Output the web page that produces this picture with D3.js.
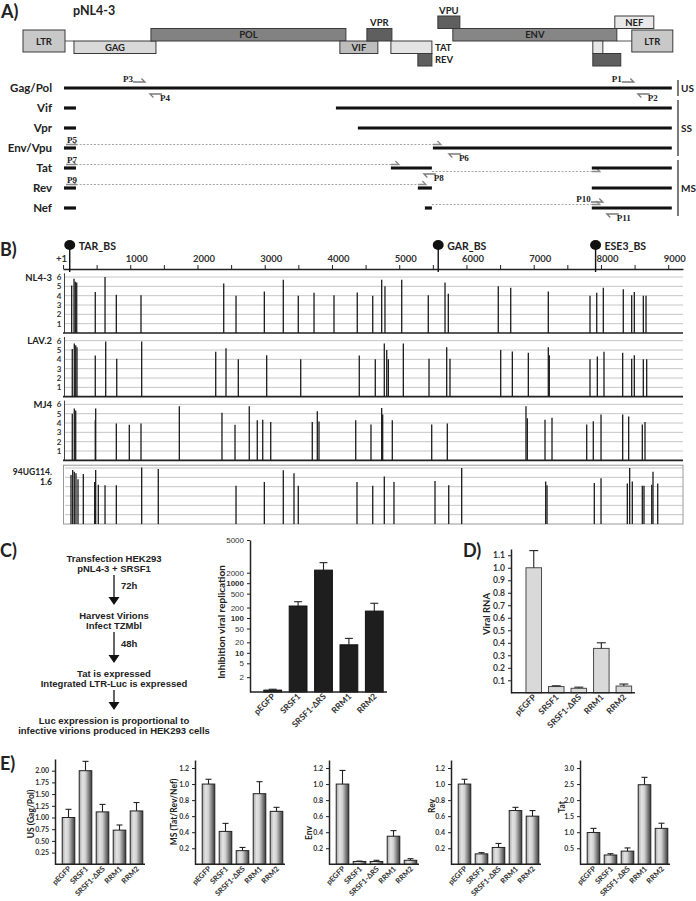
<!DOCTYPE html>
<html>
<head>
<meta charset="utf-8">
<script src="https://cdn.jsdelivr.net/npm/d3@7"></script>
<style>
  body { margin: 0; background: #fff; }
  svg { display: block; }
  text { font-family: Lato, 'Open Sans', sans-serif; font-weight: bold; fill: #222; }
  .serif { font-family: 'Liberation Serif', 'DejaVu Serif', serif; }
  .arial { font-family: 'Liberation Sans', Arial, sans-serif; }
</style>
</head>
<body>
<svg id="fig" width="696" height="901"></svg>
<script>
// ---------- A) pNL4-3 map (nt) ----------
const genes = [
  {name: 'LTR', frame: 'ltr', start: 0, end: 628},
  {name: 'GAG', frame: 'f2', start: 762, end: 1988},
  {name: 'POL', frame: 'f1', start: 1913, end: 4828},
  {name: 'VIF', frame: 'f2', start: 4738, end: 5306},
  {name: 'VPR', frame: 'f1', start: 5142, end: 5516},
  {name: 'TAT', frame: 'f2', start: 5501, end: 6114},
  {name: 'REV', frame: 'f3', start: 5904, end: 6114},
  {name: 'VPU', frame: 'up', start: 6203, end: 6532},
  {name: 'ENV', frame: 'f1', start: 6427, end: 8879},
  {name: 'NEF', frame: 'up', start: 8849, end: 9432},
  {name: 'LTR', frame: 'ltr', start: 9103, end: 9716},
  {name: '', frame: 'f2', start: 8520, end: 8670},
  {name: '', frame: 'f3', start: 8520, end: 8938}
];
const transcripts = ['Gag/Pol', 'Vif', 'Vpr', 'Env/Vpu', 'Tat', 'Rev', 'Nef'];
const transcriptExons = {
  'Gag/Pol': [[613, 9701]],
  'Vif': [[613, 792], [4679, 9701]],
  'Vpr': [[613, 792], [5007, 9701]],
  'Env/Vpu': [[613, 792], [6129, 9701]],
  'Tat': [[613, 792], [5501, 6114], [8505, 9701]],
  'Rev': [[613, 792], [5904, 6114], [8505, 9701]],
  'Nef': [[613, 792], [6009, 6114], [8505, 9701]]
};
// transcript, junction after exon k, above(-1)/below(+1)
const primerJunctions = [['Env/Vpu', 0, -1], ['Tat', 0, -1], ['Tat', 1, 1], ['Rev', 0, -1], ['Nef', 1, -1]];
const primers = [
  ['P3', 'Gag/Pol', 1644, 'f'], ['P4', 'Gag/Pol', 1898, 'r'], ['P1', 'Gag/Pol', 8954, 'f'], ['P2', 'Gag/Pol', 9193, 'r'],
  ['P5', 'Env/Vpu', 643, 'f'], ['P6', 'Env/Vpu', 6368, 'r'], ['P7', 'Tat', 643, 'f'], ['P8', 'Tat', 5994, 'r'],
  ['P9', 'Rev', 643, 'f'], ['P10', 'Nef', 8490, 'f'], ['P11', 'Nef', 8729, 'r']
];
const transcriptGroups = [['US', ['Gag/Pol']], ['SS', ['Vif', 'Vpr', 'Env/Vpu']], ['MS', ['Tat', 'Rev', 'Nef']]];

// ---------- B) SRSF1 binding sites (position, score) ----------
const bindingSites = [['TAR_BS', 100], ['GAR_BS', 5580], ['ESE3_BS', 7920]];
const strains = ['NL4-3', 'LAV.2', 'MJ4', '94UG114.1.6'];
const nl43Sites = [[129,5.1],[164,5.8],[183,5.5],[204,5.4],[480,4.4],[625,6.0],[793,4.1],[1160,4.05],[2390,5.3],[2573,4.0],
  [2994,4.45],[3276,5.7],[3499,4.0],[3733,4.3],[4030,4.05],[4376,4.35],[4606,4.0],[4739,5.7],[4788,5.0],[5037,5.7],
  [5432,4.05],[5681,5.4],[5730,4.2],[6473,5.0],[6658,4.85],[7217,4.45],[7837,4.0],[7937,4.3],[8035,4.85],[8332,4.7],
  [8457,4.05],[8496,4.4],[8630,4.0],[8670,4.0]];
const lav2Sites = [[138,5.1],[168,5.7],[189,5.5],[208,5.3],[480,4.4],[635,5.9],[799,4.05],[1170,5.9],[2271,4.8],[2424,5.2],
  [2607,4.0],[3029,4.45],[3535,4.0],[4406,4.4],[4644,4.0],[4778,5.7],[4814,5.0],[4838,4.0],[5061,5.7],[5443,4.05],
  [5706,5.3],[5755,4.05],[6509,5.0],[6682,4.85],[6920,4.7],[7217,5.3],[7232,4.45],[7837,4.0],[7946,4.3],[8045,4.8],
  [8323,4.7],[8457,4.05],[8496,4.45],[8630,4.0],[8680,4.0]];
const mj4Sites = [[138,5.0],[168,5.55],[189,5.35],[480,4.3],[486,5.55],[793,3.95],[986,3.8],[1160,3.95],[1730,5.8],[2364,5.1],
  [2558,3.8],[2770,5.8],[2889,4.3],[2970,4.35],[3089,4.1],[3707,4.1],[3782,5.25],[3807,4.15],[4353,4.3],[4580,3.85],
  [4739,5.6],[4754,4.9],[4897,4.3],[5483,3.85],[5715,3.95],[6885,5.8],[6905,4.5],[7168,4.35],[7272,4.55],[7788,3.85],
  [7886,4.2],[8001,4.9],[8323,4.9],[8412,4.7],[8615,3.85],[8655,4.1]];
const ug114Sites = [[119,5.25],[144,5.8],[168,5.6],[193,5.45],[223,4.8],[302,5.35],[471,4.5],[486,5.8],[525,4.2],[625,4.15],
  [793,4.15],[1170,6.05],[1417,5.9],[2573,4.1],[2994,4.5],[3276,5.75],[3435,5.45],[3499,4.1],[4372,4.5],[4606,4.1],
  [4778,5.1],[4922,4.5],[5532,4.6],[5736,4.15],[5929,6.0],[7178,4.55],[7198,4.15],[7901,4.4],[8001,4.9],[8392,4.35],
  [8427,6.0],[8466,4.55],[8615,4.1],[8640,4.1],[8755,4.2],[8774,5.6],[8844,4.35]];
const strainSites = [nl43Sites, lav2Sites, mj4Sites, ug114Sites];

// ---------- C) D) E) ----------
const flowSteps = [
  ['Transfection HEK293', 'pNL4-3 + SRSF1'],
  ['Harvest Virions', 'Infect TZMbl'],
  ['Tat is expressed', 'Integrated LTR-Luc is expressed'],
  ['Luc expression is proportional to', 'infective virions produced in HEK293 cells']
];
const flowTimes = ['72h', '48h', ''];
const constructs = ['pEGFP', 'SRSF1', 'SRSF1-\u0394RS', 'RRM1', 'RRM2'];
const inhibition = [0.85, 221, 2150, 17, 158];
const inhibitionErr = [0.9, 294, 2650, 26, 265];
const inhibitionTicks = [2, 5, 10, 20, 50, 100, 200, 500, 1000, 2000, 5000];
const viralRNA = [1.0, 0.05, 0.036, 0.355, 0.054];
const viralRNAErr = [1.137, 0.056, 0.045, 0.40, 0.07];
const viralRNATicks = [0.1, 0.2, 0.3, 0.4, 0.5, 0.6, 0.7, 0.8, 0.9, 1.0, 1.1];
const usRNA = [1.0, 2.0, 1.12, 0.73, 1.14];
const usErr = [1.175, 2.2, 1.28, 0.84, 1.32];
const msRNA = [1.0, 0.41, 0.17, 0.88, 0.66];
const msErr = [1.06, 0.51, 0.21, 1.03, 0.71];
const envRNA = [1.0, 0.035, 0.035, 0.35, 0.05];
const envErr = [1.17, 0.04, 0.05, 0.42, 0.07];
const revRNA = [1.0, 0.13, 0.21, 0.67, 0.60];
const revErr = [1.06, 0.145, 0.26, 0.71, 0.67];
const tatRNA = [0.99, 0.29, 0.41, 2.48, 1.12];
const tatErr = [1.12, 0.33, 0.51, 2.71, 1.28];

const svg = d3.select('#fig');
svg.append('rect').attr('width', 696).attr('height', 901).attr('fill', '#fff');

function txt(g, s, x, y, size, anchor) {
  return g.append('text').attr('x', x).attr('y', y).attr('font-size', size)
    .attr('text-anchor', anchor || 'start').text(s);
}
function halfArrow(g, x, y, len, dir, color) {
  const p = dir === 'f'
    ? `M${x},${y}H${x + len}l-3.5,-3.5`
    : `M${x + len},${y}H${x}l3.5,3.5`;
  g.append('path').attr('d', p).attr('fill', 'none')
    .attr('stroke', color || '#7a7a7a').attr('stroke-width', 1.3);
}

// ================= A =================
const gA = svg.append('g');
txt(gA, 'A)', 1, 18, 18);
txt(gA, 'pNL4-3', 73, 15, 12.5);
const xA = d3.scaleLinear().domain([0, 9719]).range([23, 673]);
const frameY = d3.scaleBand().domain(['up', 'f1', 'f2', 'f3']).range([16, 66]);
const bw = frameY.bandwidth();
const geneTop = d => d.frame === 'ltr' ? frameY('f1') + 1.5 : frameY(d.frame);
const geneH = d => d.frame === 'ltr' ? bw * 2 - 3 : bw;
const geneFill = {LTR: '#c8c8c8', GAG: '#d9d9d9', POL: '#828282', VIF: '#bdbdbd', VPR: '#5f5f5f',
  TAT: '#e4e4e4', REV: '#5f5f5f', VPU: '#5f5f5f', ENV: '#868686', NEF: '#e8e8e8'};
const ltrs = genes.filter(d => d.name === 'LTR');
const gag = genes.find(d => d.name === 'GAG');
const env = genes.find(d => d.name === 'ENV');
gA.append('g').attr('stroke', '#555').attr('stroke-width', 1)
  .selectAll('line').data([[ltrs[0].end, gag.start], [env.end, ltrs[1].start]]).join('line')
  .attr('x1', d => xA(d[0])).attr('x2', d => xA(d[1]))
  .attr('y1', frameY('f2')).attr('y2', frameY('f2'));
gA.append('g').selectAll('rect').data(genes).join('rect')
  .attr('x', d => xA(d.start)).attr('width', d => xA(d.end) - xA(d.start))
  .attr('y', geneTop).attr('height', geneH)
  .attr('fill', d => geneFill[d.name] || (d.frame === 'f3' ? '#5f5f5f' : '#e6e6e6'))
  .attr('stroke', '#3a3a3a').attr('stroke-width', 1);
const outside = {VPR: 'above', VPU: 'above', TAT: 'right', REV: 'right'};
gA.append('g').selectAll('text').data(genes.filter(d => d.name)).join('text')
  .attr('font-size', 9.5)
  .attr('x', d => outside[d.name] === 'right' ? xA(d.end) + 3 : (xA(d.start) + xA(d.end)) / 2)
  .attr('y', d => outside[d.name] === 'above' ? geneTop(d) - 2.5 : geneTop(d) + geneH(d) / 2 + 3.5)
  .attr('text-anchor', d => outside[d.name] === 'right' ? 'start' : 'middle')
  .text(d => d.name);

const yT = d3.scalePoint().domain(transcripts).range([88, 208]);
gA.append('g').selectAll('text').data(transcripts).join('text')
  .attr('x', 52).attr('y', d => yT(d) + 4).attr('text-anchor', 'end')
  .attr('font-size', 11.5).text(d => d);
primerJunctions.forEach(([t, k, side]) => {
  const ex = transcriptExons[t];
  const y = yT(t) + side * 3.5;
  const x1 = xA(ex[k][1]), x2 = xA(ex[k + 1][0]);
  gA.append('line').attr('x1', x1).attr('x2', x2).attr('y1', y).attr('y2', y)
    .attr('stroke', '#9a9a9a').attr('stroke-width', 0.9).attr('stroke-dasharray', '2,1.6');
  halfArrow(gA, x2, y, 8, 'f', '#8a8a8a');
});
transcripts.forEach(t => {
  gA.append('g').selectAll('line').data(transcriptExons[t]).join('line')
    .attr('x1', d => xA(d[0])).attr('x2', d => xA(d[1]))
    .attr('y1', yT(t)).attr('y2', yT(t))
    .attr('stroke', '#111').attr('stroke-width', 3.2);
});
primers.forEach(([name, t, pos, dir]) => {
  const x = xA(pos), y0 = yT(t);
  if (dir === 'f') {
    if (pos < 1000) {
      halfArrow(gA, x, y0 - 3.5, 10, 'f', '#8a8a8a');
      txt(gA, name, x + 1, y0 - 5.5, 9, 'start').attr('class', 'serif');
    } else {
      halfArrow(gA, x, y0 - 6, 12, 'f');
      txt(gA, name, x, y0 - 6.5, 9, 'end').attr('class', 'serif');
    }
  } else {
    halfArrow(gA, x, y0 + 6, 12, 'r');
    txt(gA, name, x + 10, y0 + 13, 9, 'start').attr('class', 'serif');
  }
});
transcriptGroups.forEach(([name, members]) => {
  const y1 = yT(members[0]) - 8, y2 = yT(members[members.length - 1]) + 8;
  gA.append('line').attr('x1', 678).attr('x2', 678).attr('y1', y1).attr('y2', y2)
    .attr('stroke', '#333').attr('stroke-width', 1.3);
  txt(gA, name, 681, (y1 + y2) / 2 + 4, 10);
});

// ================= B =================
const gB = svg.append('g');
txt(gB, 'B)', 0, 256, 18);
const xB = d3.scaleLinear().domain([0, 9220]).range([63, 683]);
const axB = gB.append('g').attr('transform', 'translate(0,269)')
  .call(d3.axisTop(xB).tickValues(d3.range(0, 9001, 500).map(v => v || 1))
    .tickSize(4).tickSizeOuter(0)
    .tickFormat(d => d === 1 ? '+1' : (d % 1000 === 0 ? d : '')));
axB.attr('font-family', null).attr('font-size', null).attr('color', '#222');
axB.select('.domain').attr('stroke-width', 1.6);
axB.selectAll('text').attr('font-size', 9.5).attr('dx', d => d === 1 ? -2 : 6).style('fill', '#333');
bindingSites.forEach(([name, pos]) => {
  const x = xB(pos);
  gB.append('line').attr('x1', x).attr('x2', x).attr('y1', 245).attr('y2', 272)
    .attr('stroke', '#111').attr('stroke-width', 1.4);
  gB.append('ellipse').attr('cx', x).attr('cy', 245).attr('rx', 5.5).attr('ry', 5).attr('fill', '#111');
  txt(gB, name, x + 9, 249.5, 10.5);
});
strains.forEach((name, i) => {
  const base = 333 + i * 63.67;
  const y = d3.scaleLinear().domain([0, 6]).range([base, base - 56]);
  const g = gB.append('g');
  g.append('g').selectAll('line').data(d3.range(1, 7)).join('line')
    .attr('x1', 65).attr('x2', 683).attr('y1', d => y(d)).attr('y2', d => y(d))
    .attr('stroke', '#c6c6c6').attr('stroke-width', 1);
  if (i < 3) {
    g.append('line').attr('x1', 64.5).attr('x2', 64.5).attr('y1', y(6.4)).attr('y2', base)
      .attr('stroke', '#444').attr('stroke-width', 1);
    g.append('line').attr('x1', 63).attr('x2', 683).attr('y1', base).attr('y2', base)
      .attr('stroke', '#222').attr('stroke-width', 1.6);
    g.append('g').selectAll('text').data(d3.range(1, 7)).join('text')
      .attr('x', 61.5).attr('y', d => y(d) + 3).attr('text-anchor', 'end')
      .attr('font-size', 8).style('fill', '#333').text(d => d);
    txt(g, name, 52, y(6) + 3.5, 9.5, 'end');
  } else {
    g.append('rect').attr('x', 63.5).attr('y', y(6.3)).attr('width', 619.5).attr('height', base - y(6.3))
      .attr('fill', 'none').attr('stroke', '#9a9a9a').attr('stroke-width', 1);
    const parts = name.match(/^(.*?\.)(.*)$/);
    txt(g, parts[1], 52, y(5.3), 8.5, 'end');
    txt(g, parts[2], 52, y(4.2), 8.5, 'end');
  }
  g.append('g').selectAll('line.site').data(strainSites[i]).join('line')
    .attr('x1', d => xB(d[0])).attr('x2', d => xB(d[0]))
    .attr('y1', base).attr('y2', d => y(d[1]))
    .attr('stroke', '#1c1c1c').attr('stroke-width', 1.3);
});

// ================= C =================
const gC = svg.append('g');
txt(gC, 'C)', 0, 557, 18);
const flowY = [562, 619, 676.5, 723.5];
const arrowY = [[575, 605], [632, 663], [690, 710]];
flowSteps.forEach((lines, i) => {
  lines.forEach((s, j) => txt(gC, s, 114, flowY[i] + j * 10, 9.5, 'middle').attr('class', 'arial'));
});
arrowY.forEach(([a, b], i) => {
  gC.append('line').attr('x1', 114).attr('x2', 114).attr('y1', a).attr('y2', b - 7)
    .attr('stroke', '#111').attr('stroke-width', 1.3);
  gC.append('path').attr('d', `M108.5,${b - 8}H119.5L114,${b}Z`).attr('fill', '#111');
  if (flowTimes[i]) txt(gC, flowTimes[i], 121, (a + b) / 2 - 1, 9.5).attr('class', 'arial');
});

function barChart(o) {
  const g = svg.append('g');
  const x = d3.scaleBand().domain(constructs).range([o.x0 + o.gap, o.x1])
    .paddingInner(o.pi).paddingOuter(o.po);
  const y = o.y;
  const base = y.range()[0];
  const cx = c => x(c) + x.bandwidth() / 2;
  g.append('g').selectAll('rect').data(o.values).join('rect')
    .attr('x', (d, i) => x(constructs[i])).attr('width', x.bandwidth())
    .attr('y', d => y(d)).attr('height', d => base - y(d))
    .attr('fill', o.fill).attr('stroke', o.stroke).attr('stroke-width', 1);
  const err = g.append('g').attr('stroke', '#222').attr('stroke-width', 1.1);
  err.selectAll('line.v').data(o.errs).join('line').attr('class', 'v')
    .attr('x1', (d, i) => cx(constructs[i])).attr('x2', (d, i) => cx(constructs[i]))
    .attr('y1', (d, i) => y(o.values[i])).attr('y2', d => y(d));
  err.selectAll('line.c').data(o.errs).join('line').attr('class', 'c')
    .attr('x1', (d, i) => cx(constructs[i]) - o.cap).attr('x2', (d, i) => cx(constructs[i]) + o.cap)
    .attr('y1', d => y(d)).attr('y2', d => y(d));
  const ax = g.append('g').attr('transform', `translate(${o.x0},0)`)
    .call(d3.axisLeft(y).tickValues(o.ticks).tickFormat(o.fmt).tickSize(3).tickSizeOuter(0));
  ax.attr('font-family', null).attr('font-size', null).attr('color', '#222');
  ax.select('.domain').attr('stroke-width', 1.5);
  ax.selectAll('text').attr('font-size', o.tfs).style('fill', '#333');
  g.append('line').attr('x1', o.x0).attr('x2', o.x1).attr('y1', base).attr('y2', base)
    .attr('stroke', '#222').attr('stroke-width', 1.5);
  g.append('g').selectAll('text').data(constructs).join('text')
    .attr('font-size', o.xfs).attr('text-anchor', 'end')
    .attr('transform', c => `translate(${cx(c) + 3},${base + 5}) rotate(-45)`)
    .style('fill', '#333').text(c => c);
  g.append('text').attr('font-size', o.lfs).attr('text-anchor', 'middle')
    .attr('transform', `translate(${o.lx},${o.ly}) rotate(-90)`).text(o.label);
  return ax;
}

const axC = barChart({
  x0: 250, x1: 387, gap: 10, pi: 0.3, po: 0.15,
  y: d3.scaleLog().domain([0.75, 2000, 5000]).range([692, 572.7, 540]),
  values: inhibition, errs: inhibitionErr, ticks: inhibitionTicks, fmt: d3.format('d'),
  fill: '#1e1e1e', stroke: '#111', cap: 4,
  tfs: 8, xfs: 8.5, lfs: 10, lx: 225, ly: 622, label: 'Inhibition viral replication'
});
// powers of ten are printed bold, the others in a lighter weight
axC.selectAll('text').style('font-weight', d => Math.log10(d) % 1 === 0 ? 'bold' : 'normal')
  .attr('class', 'arial');

// ================= D =================
txt(svg, 'D)', 463, 557, 18);
barChart({
  x0: 511, x1: 635, gap: 11.6, pi: 0.31, po: 0.15,
  y: d3.scaleLinear().domain([0, 1.15]).range([692.8, 549]),
  values: viralRNA, errs: viralRNAErr, ticks: viralRNATicks, fmt: d3.format('.1f'),
  fill: '#d9d9d9', stroke: '#4a4a4a', cap: 4.5,
  tfs: 8.5, xfs: 8.5, lfs: 9.5, lx: 490, ly: 614, label: 'Viral RNA'
});

// ================= E =================
txt(svg, 'E)', 0, 770, 18);
const defs = svg.append('defs');
const grad = defs.append('linearGradient').attr('id', 'barGrad').attr('x1', 0).attr('x2', 1).attr('y1', 0).attr('y2', 0);
[[0, '#a8a8a8'], [0.28, '#e4e4e4'], [0.5, '#cfcfcf'], [1, '#3a3a3a']].forEach(([o, c]) =>
  grad.append('stop').attr('offset', o).attr('stop-color', c));
const eCharts = [
  {x0: 55, max: 2.25, top: 759, values: usRNA, errs: usErr, ticks: d3.range(0.25, 2.01, 0.25), fmt: d3.format('.2f'), label: 'US (Gag/Pol)', lx: 34, ly: 814},
  {x0: 195, max: 1.3, top: 760, values: msRNA, errs: msErr, ticks: d3.range(0.2, 1.21, 0.2), fmt: d3.format('.1f'), label: 'MS (Tat/Rev/Nef)', lx: 177, ly: 812},
  {x0: 329, max: 1.3, top: 760, values: envRNA, errs: envErr, ticks: d3.range(0.2, 1.21, 0.2), fmt: d3.format('.1f'), label: 'Env', lx: 312, ly: 833},
  {x0: 451, max: 1.3, top: 760, values: revRNA, errs: revErr, ticks: d3.range(0.2, 1.21, 0.2), fmt: d3.format('.1f'), label: 'Rev', lx: 435, ly: 806},
  {x0: 580, max: 3.25, top: 760, values: tatRNA, errs: tatErr, ticks: d3.range(0.5, 3.01, 0.5), fmt: d3.format('.1f'), label: 'Tat', lx: 565, ly: 807}
];
eCharts.forEach(c => barChart({
  x0: c.x0, x1: c.x0 + 90, gap: 5, pi: 0.26, po: 0.13,
  y: d3.scaleLinear().domain([0, c.max]).range([864.3, c.top]),
  values: c.values, errs: c.errs, ticks: c.ticks, fmt: c.fmt,
  fill: 'url(#barGrad)', stroke: '#222', cap: 3,
  tfs: 7, xfs: 7.5, lfs: 8.5, lx: c.lx, ly: c.ly, label: c.label
}));
</script>
</body>
</html>
